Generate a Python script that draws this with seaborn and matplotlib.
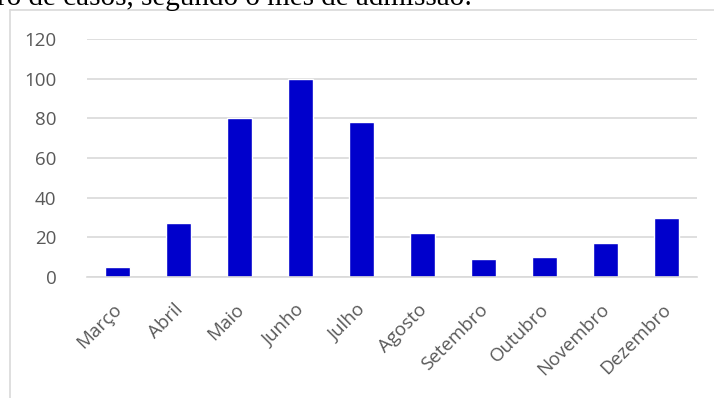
import matplotlib
matplotlib.use("Agg")
import matplotlib.pyplot as plt
import matplotlib.transforms as mtransforms
import seaborn as sns
import pandas as pd
from matplotlib.lines import Line2D

months = ["Março", "Abril", "Maio", "Junho", "Julho", "Agosto", "Setembro", "Outubro", "Novembro", "Dezembro"]
cases = [5, 27, 80, 100, 78, 22, 9, 10, 17, 30]
yticks = [0, 20, 40, 60, 80, 100, 120]
title = "ro de casos, segundo o mês de admissão:"

sns.set_theme(style="white")
plt.rcParams['font.family'] = ['Open Sans', 'DejaVu Sans']

df = pd.DataFrame({"mes": months, "casos": cases})

W, H = 714, 398
fig = plt.figure(figsize=(W / 100, H / 100), dpi=100)
ax = fig.add_axes([87 / W, 1 - 277 / H, (697 - 87) / W, (277 - 39) / H])

sns.barplot(data=df, x="mes", y="casos", color="#0000CC", saturation=1, width=0.4, ax=ax)

ax.set_xlim(-0.5, len(months) - 0.5)
ax.set_ylim(0, 120)
ax.set_yticks(yticks)
ax.set_yticklabels([str(v) for v in yticks])
ax.set_xlabel("")
ax.set_ylabel("")
ax.yaxis.grid(True, color="#d9d9d9", linewidth=1.2)
ax.set_axisbelow(True)
for s in ["top", "right", "left"]:
    ax.spines[s].set_visible(False)
ax.spines["bottom"].set_color("#d9d9d9")
ax.spines["bottom"].set_linewidth(1.2)
ax.tick_params(axis="both", length=0, colors="#595959", labelsize=13.5)
ax.tick_params(axis="y", pad=22)
ax.tick_params(axis="x", pad=17)
offset = mtransforms.ScaledTranslation(-5 / 100, 0, fig.dpi_scale_trans)
for lab in ax.get_xticklabels():
    lab.set_rotation(45)
    lab.set_ha("right")
    lab.set_rotation_mode("anchor")
    lab.set_transform(lab.get_transform() + offset)

# chart frame
fig.add_artist(Line2D([10 / W, 10 / W], [0, 1 - 10 / H], transform=fig.transFigure, color="#d9d9d9", lw=1.2))
fig.add_artist(Line2D([10 / W, 1], [1 - 10 / H, 1 - 10 / H], transform=fig.transFigure, color="#d9d9d9", lw=1.2))

fig.text(-3 / W, 1 - 5 / H, title, family="Liberation Serif", fontsize=21, color="black", va="baseline", ha="left")

fig.savefig("out.png", dpi=100)
